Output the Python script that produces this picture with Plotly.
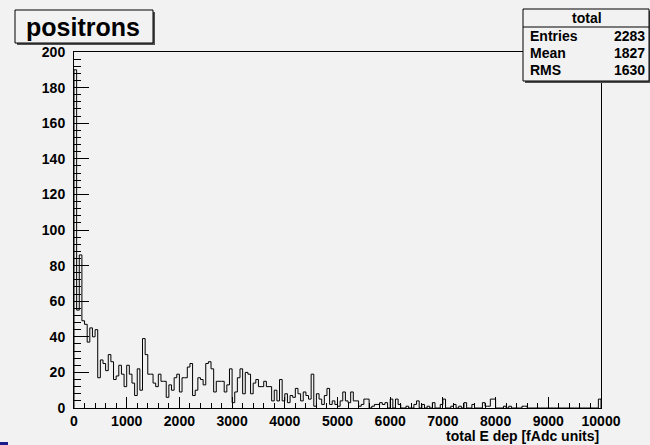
import numpy as np
import plotly.graph_objects as go

# Histogram "total": 200 bins over [0, 10000]
x_min, x_max, n_bins = 0, 10000, 200
counts = [
    190, 55, 86, 49, 47, 37, 45, 40, 44, 17,
    27, 25, 21, 30, 26, 16, 18, 24, 19, 12,
    24, 19, 14, 7, 22, 10, 39, 30, 19, 19,
    14, 12, 19, 15, 15, 6, 13, 10, 17, 19,
    9, 17, 17, 23, 25, 7, 10, 17, 16, 13,
    25, 26, 22, 9, 15, 15, 15, 9, 13, 22,
    3, 9, 17, 22, 8, 20, 19, 8, 14, 16,
    12, 12, 15, 12, 12, 4, 10, 4, 16, 4,
    8, 3, 7, 6, 11, 8, 4, 9, 7, 5,
    19, 1, 8, 5, 2, 7, 11, 2, 4, 2,
    1, 4, 9, 4, 3, 9, 4, 4, 1, 2,
    5, 5, 0, 1, 2, 2, 3, 2, 3, 0,
    5, 0, 5, 2, 0, 0, 1, 0, 0, 2,
    4, 0, 2, 0, 1, 0, 3, 0, 0, 2,
    5, 0, 0, 1, 2, 0, 1, 0, 3, 0,
    0, 2, 0, 0, 0, 3, 1, 1, 5, 5,
    0, 0, 0, 1, 0, 1, 0, 0, 0, 0,
    1, 1, 0, 0, 0, 0, 0, 0, 0, 0,
    0, 0, 0, 0, 0, 0, 0, 0, 0, 0,
    0, 0, 0, 0, 0, 0, 0, 0, 0, 5,
]

title_text = "positrons"
x_title = "total E dep [fAdc units]"
stats_name = "total"
stats_labels = ["Entries", "Mean", "RMS"]
stats_values = ["2283", "1827", "1630"]

W, H = 650, 445
L, R, T, B = 74, 49, 52, 37
BG = "#f2f2f2"
FONT = "Liberation Sans, Arial, Helvetica, sans-serif"

edges = np.linspace(x_min, x_max, n_bins + 1)
xs = [x_min] + list(edges) + [x_max]
ys = [0] + list(counts) + [counts[-1], 0]

fig = go.Figure()
fig.add_trace(go.Scatter(
    x=xs, y=ys, mode="lines", line=dict(color="black", width=1, shape="hv"),
    hoverinfo="skip", showlegend=False,
))

axis_font = dict(family=FONT, size=14, color="black", weight="bold")

fig.update_xaxes(
    range=[x_min, x_max], showgrid=False, zeroline=False,
    showline=True, linecolor="black", linewidth=1, mirror=True,
    ticks="inside", ticklen=11, tickwidth=1, tickcolor="black", dtick=1000,
    tickformat="d",
    minor=dict(ticks="inside", ticklen=5, dtick=200, tickcolor="black"),
    tickfont=axis_font, ticklabelstandoff=0,
)
fig.update_yaxes(
    range=[0, 200], showgrid=False, zeroline=False,
    showline=True, linecolor="black", linewidth=1, mirror=True,
    ticks="inside", ticklen=15, tickwidth=1, tickcolor="black", dtick=20,
    tickformat="d",
    minor=dict(ticks="inside", ticklen=7, dtick=4, tickcolor="black"),
    tickfont=axis_font, ticklabelstandoff=5,
)

pw, ph = W - L - R, H - T - B


def px(xp):
    return (xp - L) / pw


def py(yp):
    return (H - B - yp) / ph


shapes = []
annotations = []

# title box with drop shadow
shapes.append(dict(type="rect", xref="paper", yref="paper", layer="above",
                   x0=px(17), x1=px(155), y0=py(12), y1=py(45),
                   fillcolor="#505050", line=dict(width=0)))
shapes.append(dict(type="rect", xref="paper", yref="paper", layer="above",
                   x0=px(15), x1=px(153), y0=py(10), y1=py(43),
                   fillcolor=BG, line=dict(color="black", width=1)))
annotations.append(dict(xref="paper", yref="paper", x=px(83), y=py(27),
                        text=title_text, showarrow=False,
                        xanchor="center", yanchor="middle",
                        font=dict(family=FONT, size=25, color="black", weight="bold")))

# statistics box
shapes.append(dict(type="rect", xref="paper", yref="paper", layer="above",
                   x0=px(525), x1=px(652), y0=py(11), y1=py(83),
                   fillcolor="#505050", line=dict(width=0)))
shapes.append(dict(type="rect", xref="paper", yref="paper", layer="above",
                   x0=px(523), x1=px(649), y0=py(9), y1=py(81),
                   fillcolor=BG, line=dict(color="black", width=1)))
shapes.append(dict(type="line", xref="paper", yref="paper", layer="above",
                   x0=px(523), x1=px(649), y0=py(27), y1=py(27),
                   line=dict(color="black", width=1)))
stat_font = dict(family=FONT, size=14, color="black", weight="bold")
annotations.append(dict(xref="paper", yref="paper", x=px(587), y=py(18),
                        text=stats_name, showarrow=False,
                        xanchor="center", yanchor="middle", font=stat_font))
row_y = [36, 53, 70]
for lab, val, yy in zip(stats_labels, stats_values, row_y):
    annotations.append(dict(xref="paper", yref="paper", x=px(528), y=py(yy),
                            text=lab, showarrow=False,
                            xanchor="left", yanchor="middle", font=stat_font))
    annotations.append(dict(xref="paper", yref="paper", x=px(647), y=py(yy),
                            text=val, showarrow=False,
                            xanchor="right", yanchor="middle", font=stat_font))

# x axis title, right aligned to the frame
annotations.append(dict(xref="paper", yref="paper", x=1, y=py(436),
                        text=x_title, showarrow=False,
                        xanchor="right", yanchor="middle", font=axis_font))

# small marker at the bottom-left corner of the canvas
shapes.append(dict(type="rect", xref="paper", yref="paper", layer="above",
                   x0=px(0), x1=px(8), y0=py(445), y1=py(442),
                   fillcolor="#1c1c8c", line=dict(width=0)))

fig.update_layout(
    width=W, height=H, autosize=False,
    margin=dict(l=L, r=R, t=T, b=B, pad=0),
    paper_bgcolor=BG, plot_bgcolor=BG,
    shapes=shapes, annotations=annotations,
    showlegend=False,
)

fig.write_html("out.html")
